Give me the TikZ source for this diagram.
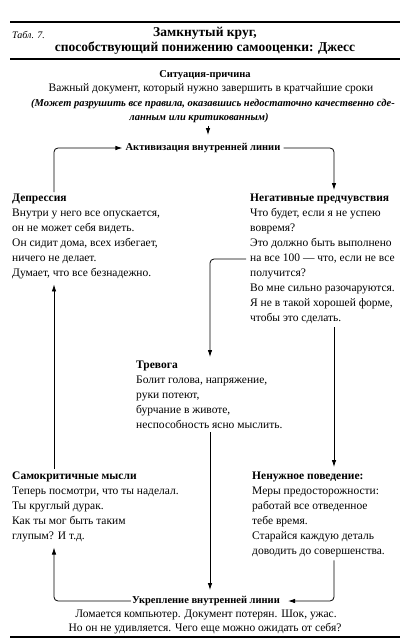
\documentclass[tikz,border=0pt]{standalone}
\usepackage{fontspec}
\setmainfont{Liberation Serif}
\usetikzlibrary{arrows.meta}
\begin{document}
\begin{tikzpicture}[x=1pt,y=-1pt,
  body/.style={inner sep=0pt, font=\fontsize{11.5}{15}\selectfont},
  bhd/.style={inner sep=0pt, font=\bfseries\fontsize{10.5}{13}\selectfont},
  ital/.style={inner sep=0pt, font=\bfseries\itshape\fontsize{10.5}{13}\selectfont},
  blk/.style={body, anchor=north west, align=left},
  arr/.style={-{Latex[length=7pt,width=4.5pt]}, line width=0.8pt, rounded corners=4pt},
  hrule/.style={line width=1.1pt}]
\useasboundingbox (0,0) rectangle (419,639);
\fill[white] (0,0) rectangle (419,639);
\draw[hrule] (10,22) -- (400,22);
\draw[hrule] (10,59) -- (400,59);
\draw[hrule] (10,637) -- (400,637);
\node[inner sep=0pt, anchor=west, font=\itshape\fontsize{10}{12}\selectfont] (tab) at (12,35) {Табл. 7.};
\node[inner sep=0pt, align=center, font=\bfseries\fontsize{13.5}{15.5}\selectfont] (title) at (205,41) {Замкнутый круг,\\способствующий понижению самооценки: Джесс};
\node[bhd] (sit) at (205,75) {Ситуация-причина};
\node[body] (sit1) at (211,89) {Важный документ, который нужно завершить в кратчайшие сроки};
\node[ital] (sit2) at (213,104) {(Может разрушить все правила, оказавшись недостаточно качественно сде-};
\node[ital] (sit3) at (199,118) {ланным или критикованным)};
\node[bhd] (act) at (203,148) {Активизация внутренней линии};
\draw[arr] ([xshift=9pt,yshift=-3pt]sit3.south) -- ([xshift=5pt,yshift=8pt]act.north);

\node[blk] (dep) at (12,194) {\textbf{Депрессия}\\Внутри у него все опускается,\\он не может себя видеть.\\Он сидит дома, всех избегает,\\ничего не делает.\\Думает, что все безнадежно.};
\node[blk] (neg) at (250,194) {\textbf{Негативные предчувствия}\\Что будет, если я не успею\\вовремя?\\Это должно быть выполнено\\на все 100 — что, если не все\\получится?\\Во мне сильно разочаруются.\\Я не в такой хорошей форме,\\чтобы это сделать.};
\node[blk] (trev) at (136,361) {\textbf{Тревога}\\Болит голова, напряжение,\\руки потеют,\\бурчание в животе,\\неспособность ясно мыслить.};
\node[blk] (self) at (12,472) {\textbf{Самокритичные мысли}\\Теперь посмотри, что ты наделал.\\Ты круглый дурак.\\Как ты мог быть таким\\глупым? И т.д.};
\node[blk] (beh) at (252,472) {\textbf{Ненужное поведение:}\\Меры предосторожности:\\работай все отведенное\\тебе время.\\Старайся каждую деталь\\доводить до совершенства.};
\node[bhd] (ukr) at (206,601) {Укрепление внутренней линии};
\node[body] (ukr1) at (206,615) {Ломается компьютер. Документ потерян. Шок, ужас.};
\node[body] (ukr2) at (205,629) {Но он не удивляется. Чего еще можно ожидать от себя?};

\draw[arr] ([xshift=42pt,yshift=2pt]dep.north west) |- ([xshift=-3pt]act.west);
\draw[arr] ([xshift=3pt]act.east) -| ([xshift=84pt,yshift=4pt]neg.north west);
\draw[arr] ([xshift=-4pt,yshift=-65pt]neg.north west) -| ([xshift=74pt,yshift=4pt]trev.north west);
\draw[arr] ([xshift=84pt,yshift=-3pt]neg.south west) -- ([xshift=82pt,yshift=5pt]beh.north west);
\path ([xshift=74pt]trev.south west) coordinate (tb);
\draw[arr] ([yshift=-3pt]tb) -- ([yshift=6pt]tb |- ukr.north);
\draw[arr] ([xshift=82pt,yshift=-3pt]beh.south west) |- ([xshift=8pt]ukr.east);
\draw[arr] ([xshift=-1pt]ukr.west) -| ([xshift=42pt,yshift=-5pt]self.south west);
\draw[arr] ([xshift=42pt,yshift=3pt]self.north west) -- ([xshift=42pt,yshift=-5pt]dep.south west);
\end{tikzpicture}
\end{document}
